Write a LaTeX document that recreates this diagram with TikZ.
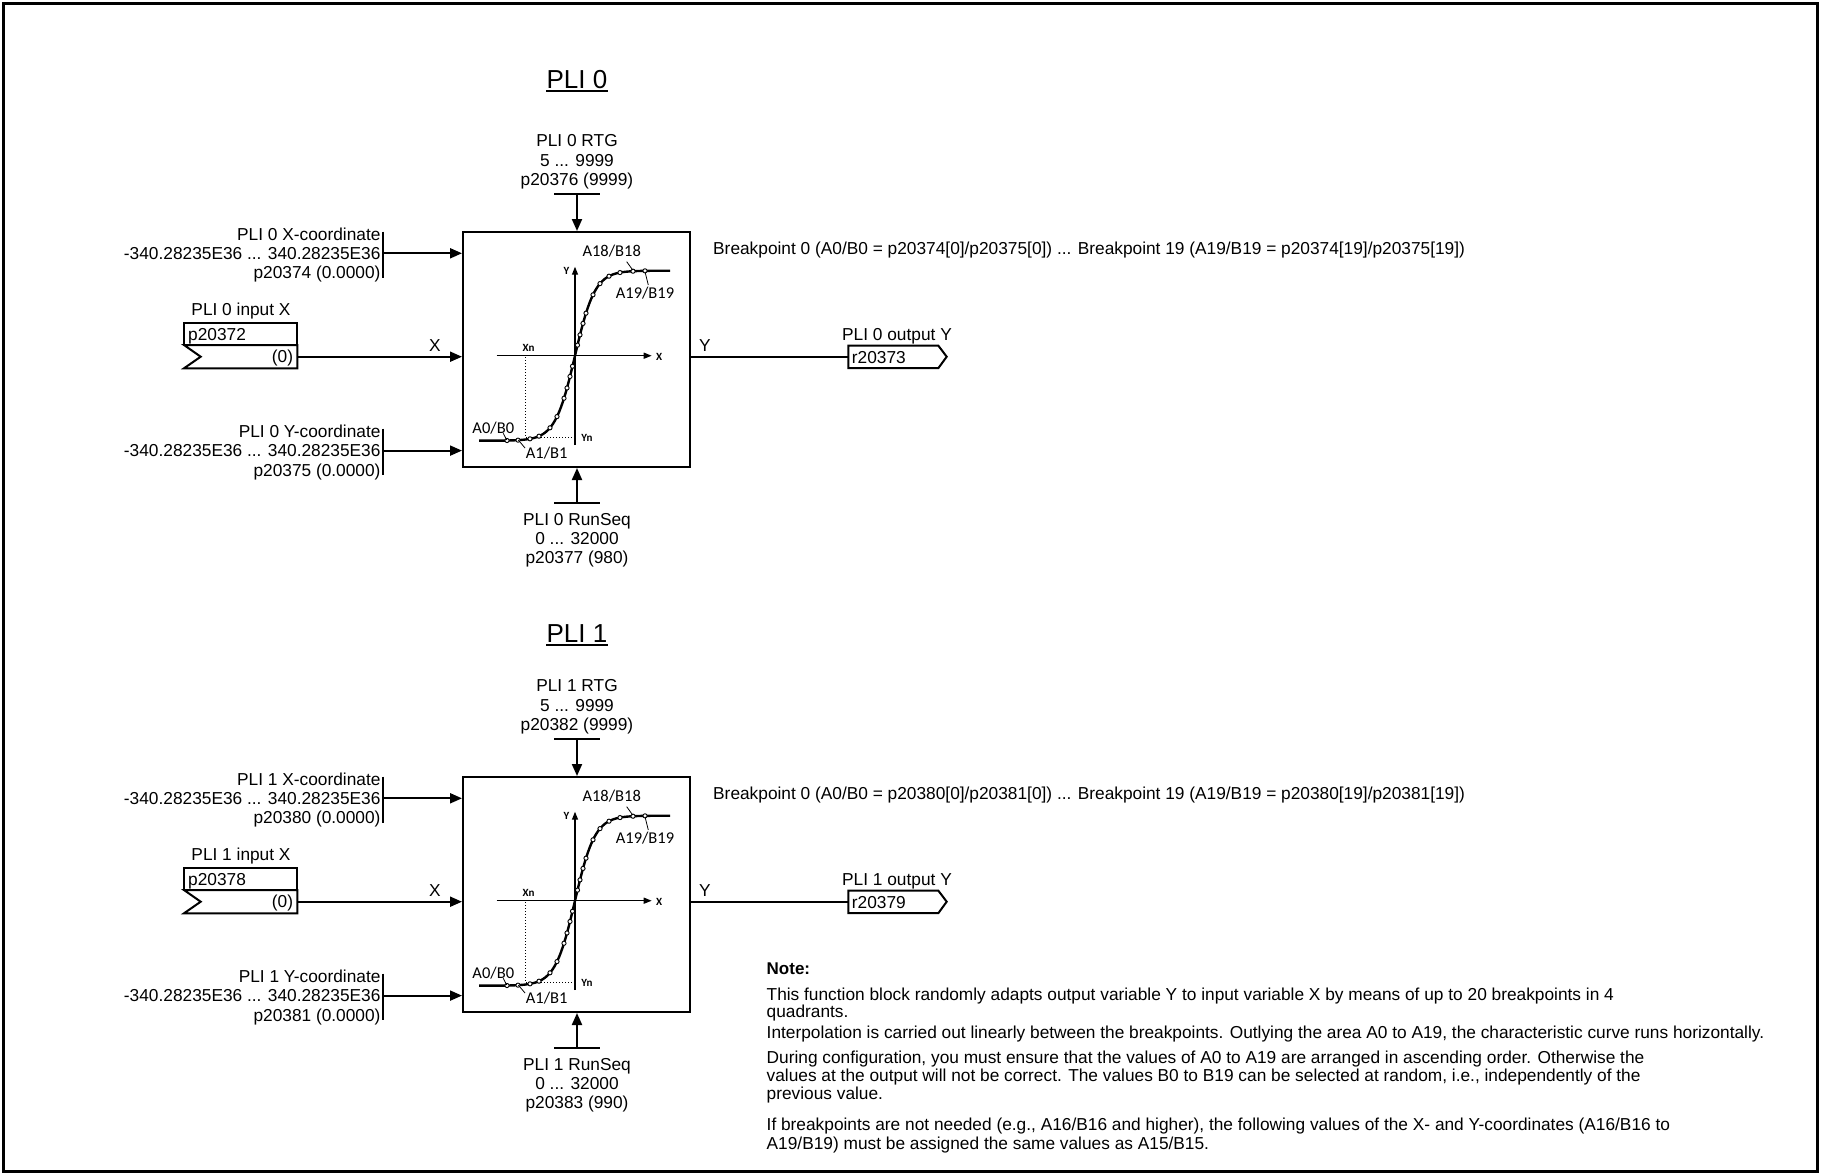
\documentclass[tikz,border=0pt]{standalone}
\usepackage{fontspec}
\setmainfont{Liberation Sans}
\newfontfamily\carl{Carlito}
\usetikzlibrary{arrows.meta}
\tikzset{
 lbl/.style={font=\fontsize{17.3}{19.35}\selectfont, inner sep=0pt, align=center},
 lblr/.style={lbl, align=right, anchor=east},
 ttl/.style={font=\fontsize{26}{30}\selectfont, inner sep=0pt, text depth=2.4pt, anchor=base},
 wire/.style={line width=2pt},
 arr/.style={line width=2pt, -{Triangle[length=12pt,width=10pt]}},
 blockbox/.style={draw, line width=2pt, minimum width=227pt, minimum height=235pt, inner sep=0pt},
 axisline/.style={line width=1.3pt, -{Triangle[length=8pt,width=6pt]}},
 smalllbl/.style={font=\carl\fontsize{16.5}{18}\selectfont, inner sep=0pt},
 tinylbl/.style={font=\carl\bfseries\fontsize{11}{12}\selectfont, inner sep=0pt},
 leader/.style={line width=0.8pt},
 notetxt/.style={font=\fontsize{17.3}{19}\selectfont, inner sep=0pt, anchor=base west},
 bpoint/.style={draw, fill=white, line width=0.9pt},
}
% #1 idx, #2 dy, #3 RTG num, #4 X num, #5 input num, #6 output num, #7 Y num, #8 RunSeq num, #9 RunSeq default
\newcommand\pliblock[9]{%
\begin{scope}[shift={(0,#2)}]
 \node[blockbox] (blk#1) at (576.5,349.5) {};
 % RTG
 \node[lbl] (rtg#1) at (577,161.8) {PLI #1 RTG\\5 ... 9999\\p#3 (9999)};
 \coordinate (rtgb#1) at (577,194.3);
 \draw[wire] (554,194.3) -- (600,194.3);
 \draw[arr] (rtgb#1) -- (rtgb#1 |- blk#1.north);
 % RunSeq
 \node[lbl] (rs#1) at (577,540.1) {PLI #1 RunSeq\\0 ... 32000\\p#8 (#9)};
 \coordinate (rsb#1) at (577,503.4);
 \draw[wire] (554,503.4) -- (600,503.4);
 \draw[arr] (rsb#1) -- (rsb#1 |- blk#1.south);
 % X coordinate
 \node[lblr] (xc#1) at (380.7,255.1) {PLI #1 X-coordinate\\-340.28235E36 ... 340.28235E36\\p#4 (0.0000)};
 \draw[wire] (383.3,231.7) -- (383.3,278.3);
 \coordinate (xcb#1) at (383.3,253.3);
 \draw[arr] (xcb#1) -- (xcb#1 -| blk#1.west);
 % Y coordinate
 \node[lblr] (yc#1) at (380.7,452.4) {PLI #1 Y-coordinate\\-340.28235E36 ... 340.28235E36\\p#7 (0.0000)};
 \draw[wire] (383.3,428.6) -- (383.3,475.4);
 \coordinate (ycb#1) at (383.3,450.6);
 \draw[arr] (ycb#1) -- (ycb#1 -| blk#1.west);
 % input X
 \node[lbl, anchor=base] (inl#1) at (241,315.2) {PLI #1 input X};
 \draw[wire] (184,323.3) rectangle (297.3,345);
 \draw[wire] (184,345) -- (297.3,345) -- (297.3,368.3) -- (184,368.3) -- (200.7,356.7) -- cycle;
 \node[lbl, anchor=base west] (inp#1) at (188,340.2) {p#5};
 \node[lbl, anchor=base east] (inv#1) at (293.3,362.9) {(0)};
 \coordinate (inx#1) at (297.3,356.7);
 \draw[arr] (inx#1) -- (inx#1 -| blk#1.west);
 \node[lbl, anchor=base] (xl#1) at (435,351.2) {X};
 % output Y
 \coordinate (outs#1) at (blk#1.east |- inx#1);
 \coordinate (oute#1) at (848.3,356.7);
 \draw[wire] (outs#1) -- (oute#1);
 \draw[wire] (848.3,345.6) -- (938.3,345.6) -- (946.7,356.7) -- (938.3,368.2) -- (848.3,368.2) -- cycle;
 \node[lbl, anchor=base west] (outp#1) at (851.7,363) {r#6};
 \node[lbl, anchor=base] (outl#1) at (897,340.2) {PLI #1 output Y};
 \node[lbl, anchor=base] (yl#1) at (705,351.2) {Y};
 % breakpoints text
 \node[lbl, anchor=base west] (bp#1) at (713,254.2) {Breakpoint 0 (A0/B0 = p#4[0]/p#7[0]) ... Breakpoint 19 (A19/B19 = p#4[19]/p#7[19])};
 % characteristic
 \draw[axisline] (496.7,355.7) -- (651.7,355.7);
 \draw[axisline] (575,445) -- (575,266.7);
 \node[tinylbl, anchor=west] (ax#1) at (656,357) {X};
 \node[tinylbl] (ay#1) at (566.5,270.5) {Y};
 \draw[dotted, line width=1pt] (525.7,357) -- (525.7,437.3) -- (575,437.3);
 \node[tinylbl] (xn#1) at (528.5,347.5) {Xn};
 \node[tinylbl] (yn#1) at (587,437.5) {Yn};
 \draw[line width=2.4pt] plot[domain=-96:95, samples=120] ({575+\x},{355.7-85*tanh(\x/20)});
 \foreach \d in {-68,-57,-45,-36,-25,-18,-11,-8,-5,-2.5,2.5,5,8,11,18,25,34,45,58,70}
   \path[bpoint] ({575+\d},{355.7-85*tanh(\d/20)}) circle[radius=2.1pt];
 \node[smalllbl] (a18#1) at (611.7,250.7) {A18/B18};
 \draw[leader] (626.7,261.7) -- (632.7,270);
 \node[smalllbl] (a19#1) at (645,292.7) {A19/B19};
 \draw[leader] (645,271.7) -- (648.3,285);
 \node[smalllbl] (a0#1) at (493.3,428.3) {A0/B0};
 \draw[leader] (503.3,433.3) -- (506.7,440);
 \node[smalllbl] (a1#1) at (546.7,453.3) {A1/B1};
 \draw[leader] (518.3,440) -- (525,448);
\end{scope}}

\begin{document}
\begin{tikzpicture}[x=1pt,y=-1pt]
 \useasboundingbox (0,0) rectangle (1821,1175);
 \draw[line width=3pt] (3.5,3.5) rectangle (1817.5,1171.5);
 % titles
 \node[ttl] (t0) at (577,88.3) {PLI 0};
 \draw[line width=1.8pt] (t0.south west) -- (t0.south east);
 \node[ttl] (t1) at (577,642.3) {PLI 1};
 \draw[line width=1.8pt] (t1.south west) -- (t1.south east);
 \pliblock{0}{0}{20376}{20374}{20372}{20373}{20375}{20377}{980}
 \pliblock{1}{545}{20382}{20380}{20378}{20379}{20381}{20383}{990}
 % note
 \node[notetxt, font=\bfseries\fontsize{17}{19}\selectfont] (n0) at (766.5,974.6) {Note:};
 \node[notetxt] (n1) at (766.5,1000.4) {This function block randomly adapts output variable Y to input variable X by means of up to 20 breakpoints in 4};
 \node[notetxt] (n2) at (766.5,1017.8) {quadrants.};
 \node[notetxt] (n3) at (766.5,1038.7) {Interpolation is carried out linearly between the breakpoints. Outlying the area A0 to A19, the characteristic curve runs horizontally.};
 \node[notetxt] (n4) at (766.5,1063.1) {During configuration, you must ensure that the values of A0 to A19 are arranged in ascending order. Otherwise the};
 \node[notetxt] (n5) at (766.5,1081.7) {values at the output will not be correct. The values B0 to B19 can be selected at random, i.e., independently of the};
 \node[notetxt] (n6) at (766.5,1099.1) {previous value.};
 \node[notetxt] (n7) at (766.5,1130.4) {If breakpoints are not needed (e.g., A16/B16 and higher), the following values of the X- and Y-coordinates (A16/B16 to};
 \node[notetxt] (n8) at (766.5,1149) {A19/B19) must be assigned the same values as A15/B15.};
\end{tikzpicture}
\end{document}
